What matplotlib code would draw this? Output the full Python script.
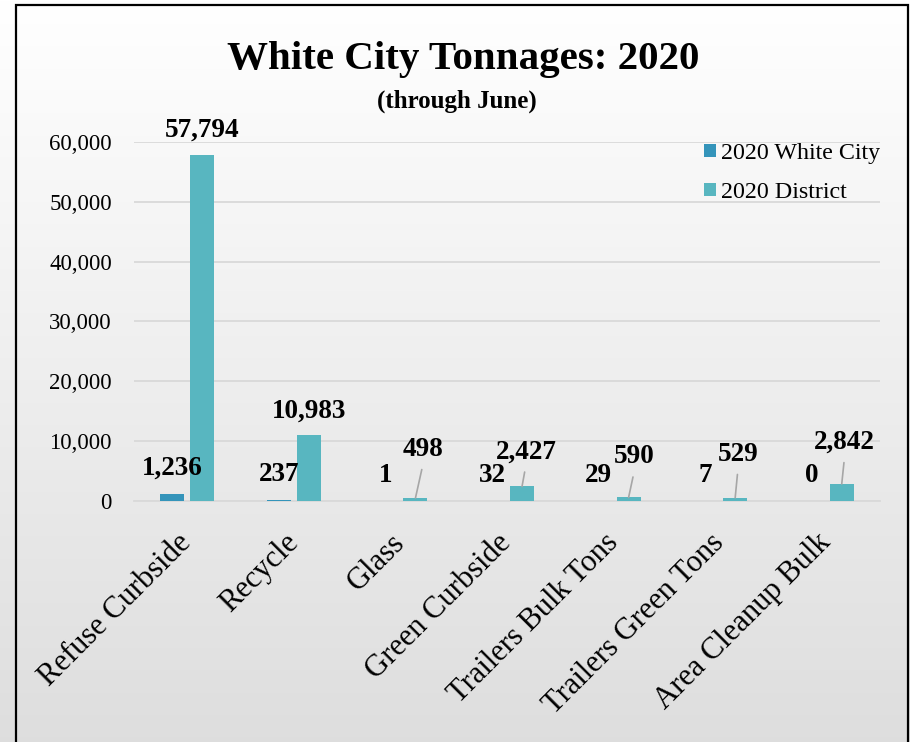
import numpy as np
import matplotlib
matplotlib.use("Agg")
import matplotlib.pyplot as plt
from matplotlib.patches import Rectangle
from matplotlib.ticker import FuncFormatter

# data
categories = ["Refuse Curbside", "Recycle", "Glass", "Green Curbside",
              "Trailers Bulk Tons", "Trailers Green Tons", "Area Cleanup Bulk"]
white_city = [1236, 237, 1, 32, 29, 7, 0]
district = [57794, 10983, 498, 2427, 590, 529, 2842]
series_names = ["2020 White City", "2020 District"]

# label placement (pixels from bar top to label centre) and leader lines
wc_offsets = [(0, -28)] * 7
dist_offsets = [(0, -28), (0, -27), (8, -51), (4, -37), (6, -43), (3, -46), (3, -44)]
dist_leader = [False, False, True, True, True, True, True]

plt.rcParams['font.family'] = ['Liberation Serif', 'DejaVu Serif']

fig = plt.figure(figsize=(9.1, 7.42), dpi=100)

# background gradient, white at the top to light grey at the bottom
bg = fig.add_axes([0, 0, 1, 1], zorder=-10)
grad = np.linspace(1.0, 0.87, 256).reshape(-1, 1)
bg.imshow(np.dstack([grad, grad, grad]), aspect='auto', extent=[0, 1, 0, 1])
bg.axis('off')

# chart border (bottom runs off the picture)
fig.patches.append(Rectangle((16 / 910, -0.05), (908 - 16) / 910, 1 - 5 / 742 + 0.05,
                             transform=fig.transFigure, fill=False,
                             edgecolor='black', linewidth=1.6, zorder=5))

ax = fig.add_axes([134 / 910, 1 - 501 / 742, (880 - 134) / 910, (501 - 142) / 742])
ax.patch.set_alpha(0)

x = np.arange(len(categories))
w = 0.225
off = 0.141
bars_wc = ax.bar(x - off, white_city, w, color='#3494BA', label=series_names[0], zorder=3)
bars_d = ax.bar(x + off, district, w, color='#58B6C0', label=series_names[1], zorder=3)

ax.set_xlim(-0.5, len(categories) - 0.5)
ax.set_ylim(0, 60000)
ax.set_yticks(np.arange(0, 60001, 10000))
ax.yaxis.set_major_formatter(FuncFormatter(lambda v, p: f"{int(v):,}"))
ax.grid(axis='y', color='#d9d9d9', linewidth=1.3, zorder=0)
for s in ['top', 'right', 'left']:
    ax.spines[s].set_visible(False)
ax.spines['bottom'].set_color('#d9d9d9')
ax.spines['bottom'].set_linewidth(1.3)
ax.tick_params(axis='both', length=0)
ax.tick_params(axis='y', labelsize=16.5, pad=16)
ax.set_xticks(x)
ax.set_xticklabels(categories, fontsize=22)
ax.tick_params(axis='x', pad=27)
for lab in ax.get_xticklabels():
    lab.set_rotation(45)
    lab.set_ha('right')
    lab.set_va('center')
    lab.set_rotation_mode('anchor')

px = 0.72  # points per pixel at 100 dpi
for i in range(len(categories)):
    dx, dy = wc_offsets[i]
    ax.annotate(f"{white_city[i]:,}", xy=(x[i] - off, white_city[i]),
                xytext=(dx * px, -(dy + 9) * px), textcoords='offset points',
                ha='center', va='baseline', fontsize=19.5, fontweight='bold')
    dx, dy = dist_offsets[i]
    arrow = None
    if dist_leader[i]:
        arrow = dict(arrowstyle='-', color='#a6a6a6', linewidth=1.2,
                     relpos=(0.5, 0), shrinkA=3.5, shrinkB=0)
    ax.annotate(f"{district[i]:,}", xy=(x[i] + off, district[i]),
                xytext=(dx * px, -(dy + 9) * px), textcoords='offset points',
                ha='center', va='baseline', fontsize=19.5, fontweight='bold',
                arrowprops=arrow)

fig.text(463 / 910, 1 - 59 / 742, "White City Tonnages: 2020", ha='center', va='center',
         fontsize=29.5, fontweight='bold')
fig.text(457 / 910, 1 - 101 / 742, "(through June)", ha='center', va='center',
         fontsize=18, fontweight='bold')

leg = ax.legend(loc='upper left', bbox_to_anchor=(704 / 910, 1 - 143 / 742),
                bbox_transform=fig.transFigure, frameon=False, fontsize=17.3,
                handlelength=0.5, handleheight=0.5, handletextpad=0.2,
                labelspacing=0.75, borderpad=0, borderaxespad=0)

fig.savefig("out.png", dpi=100)
